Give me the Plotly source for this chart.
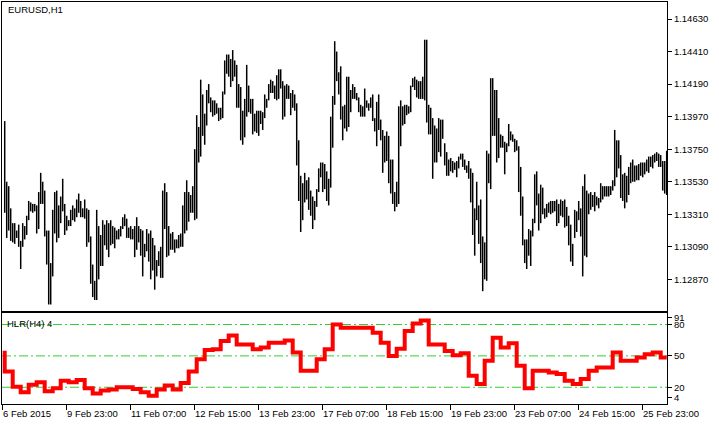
import plotly.graph_objects as go

# ---------------- data ----------------
high = [1.1394,1.1353,1.1350,1.1335,1.1325,1.1325,1.1320,1.1324,1.1313,1.1325,
1.1323,1.1330,1.1340,1.1339,1.1338,1.1338,1.1337,1.1346,1.1359,1.1353,
1.1347,1.1320,1.1320,1.1298,1.1334,1.1346,1.1347,1.1337,1.1343,1.1355,
1.1338,1.1330,1.1327,1.1334,1.1337,1.1335,1.1341,1.1345,1.1340,1.1335,
1.1341,1.1335,1.1334,1.1316,1.1297,1.1286,1.1334,1.1323,1.1317,1.1327,
1.1324,1.1327,1.1325,1.1327,1.1323,1.1322,1.1320,1.1321,1.1323,1.1329,
1.1331,1.1328,1.1322,1.1323,1.1321,1.1323,1.1329,1.1323,1.1321,1.1320,
1.1311,1.1321,1.1318,1.1320,1.1315,1.1310,1.1300,1.1306,1.1309,1.1347,
1.1352,1.1346,1.1323,1.1318,1.1319,1.1314,1.1314,1.1317,1.1318,1.1337,
1.1346,1.1354,1.1346,1.1344,1.1350,1.1375,1.1398,1.1390,1.1422,1.1412,
1.1399,1.1415,1.1419,1.1410,1.1408,1.1408,1.1406,1.1403,1.1403,1.1414,
1.1435,1.1439,1.1439,1.1436,1.1442,1.1435,1.1432,1.1419,1.1417,1.1401,
1.1409,1.1432,1.1418,1.1409,1.1409,1.1399,1.1401,1.1401,1.1401,1.1400,
1.1412,1.1409,1.1419,1.1422,1.1421,1.1418,1.1425,1.1429,1.1429,1.1421,
1.1418,1.1419,1.1418,1.1413,1.1415,1.1412,1.1406,1.1381,1.1357,1.1352,
1.1359,1.1354,1.1356,1.1347,1.1343,1.1340,1.1348,1.1362,1.1366,1.1366,
1.1365,1.1360,1.1355,1.1397,1.1411,1.1448,1.1441,1.1427,1.1431,1.1404,
1.1405,1.1424,1.1424,1.1415,1.1419,1.1417,1.1413,1.1410,1.1405,1.1404,
1.1416,1.1408,1.1406,1.1410,1.1412,1.1396,1.1407,1.1412,1.1395,1.1388,
1.1384,1.1387,1.1384,1.1368,1.1368,1.1346,1.1353,1.1404,1.1408,1.1404,
1.1405,1.1405,1.1404,1.1418,1.1423,1.1424,1.1422,1.1421,1.1421,1.1424,
1.1449,1.1449,1.1405,1.1403,1.1396,1.1391,1.1389,1.1396,1.1395,1.1395,
1.1379,1.1373,1.1368,1.1369,1.1367,1.1366,1.1367,1.1370,1.1372,1.1372,
1.1368,1.1364,1.1367,1.1362,1.1359,1.1335,1.1353,1.1337,1.1341,1.1316,
1.1312,1.1374,1.1372,1.1423,1.1423,1.1415,1.1415,1.1396,1.1385,1.1384,
1.1380,1.1379,1.1392,1.1387,1.1385,1.1382,1.1381,1.1377,1.1363,1.1343,
1.1314,1.1314,1.1321,1.1320,1.1328,1.1358,1.1360,1.1345,1.1351,1.1349,
1.1335,1.1338,1.1339,1.1340,1.1340,1.1340,1.1341,1.1338,1.1341,1.1340,
1.1341,1.1336,1.1330,1.1324,1.1311,1.1334,1.1333,1.1340,1.1335,1.1350,
1.1358,1.1347,1.1345,1.1346,1.1344,1.1346,1.1343,1.1342,1.1352,1.1350,
1.1350,1.1350,1.1350,1.1350,1.1354,1.1388,1.1381,1.1381,1.1371,1.1358,
1.1359,1.1357,1.1363,1.1366,1.1368,1.1364,1.1364,1.1365,1.1366,1.1366,
1.1366,1.1368,1.1370,1.1370,1.1371,1.1372,1.1373,1.1372,1.1371,1.1367,
1.1367,1.1374]

low = [1.1332,1.1315,1.1320,1.1313,1.1312,1.1311,1.1315,1.1309,1.1294,1.1309,
1.1314,1.1317,1.1327,1.1333,1.1332,1.1333,1.1318,1.1321,1.1338,1.1338,
1.1316,1.1297,1.1270,1.1270,1.1289,1.1318,1.1312,1.1315,1.1325,1.1333,
1.1317,1.1320,1.1323,1.1323,1.1327,1.1326,1.1329,1.1332,1.1329,1.1329,
1.1328,1.1309,1.1312,1.1284,1.1275,1.1273,1.1273,1.1287,1.1296,1.1296,
1.1310,1.1307,1.1302,1.1310,1.1311,1.1308,1.1314,1.1314,1.1316,1.1321,
1.1323,1.1315,1.1315,1.1314,1.1314,1.1302,1.1307,1.1312,1.1303,1.1289,
1.1302,1.1306,1.1299,1.1287,1.1293,1.1280,1.1289,1.1296,1.1288,1.1288,
1.1321,1.1302,1.1303,1.1307,1.1307,1.1305,1.1308,1.1308,1.1309,1.1309,
1.1318,1.1320,1.1326,1.1332,1.1332,1.1327,1.1328,1.1366,1.1370,1.1384,
1.1378,1.1391,1.1406,1.1400,1.1397,1.1398,1.1399,1.1394,1.1395,1.1396,
1.1412,1.1426,1.1424,1.1417,1.1421,1.1424,1.1403,1.1403,1.1381,1.1378,
1.1383,1.1397,1.1400,1.1399,1.1385,1.1387,1.1386,1.1384,1.1392,1.1388,
1.1396,1.1403,1.1408,1.1413,1.1413,1.1409,1.1408,1.1409,1.1416,1.1395,
1.1397,1.1409,1.1409,1.1398,1.1403,1.1401,1.1364,1.1340,1.1319,1.1327,
1.1339,1.1341,1.1334,1.1330,1.1321,1.1327,1.1336,1.1346,1.1356,1.1346,
1.1348,1.1340,1.1337,1.1349,1.1376,1.1405,1.1421,1.1412,1.1395,1.1381,
1.1389,1.1387,1.1390,1.1400,1.1409,1.1409,1.1408,1.1400,1.1397,1.1397,
1.1397,1.1403,1.1401,1.1403,1.1394,1.1387,1.1377,1.1388,1.1381,1.1359,
1.1366,1.1367,1.1352,1.1345,1.1338,1.1333,1.1336,1.1338,1.1377,1.1391,
1.1392,1.1398,1.1399,1.1400,1.1417,1.1415,1.1410,1.1409,1.1409,1.1409,
1.1408,1.1393,1.1385,1.1385,1.1355,1.1366,1.1366,1.1373,1.1370,1.1382,
1.1364,1.1357,1.1357,1.1360,1.1359,1.1361,1.1356,1.1362,1.1368,1.1363,
1.1361,1.1359,1.1355,1.1339,1.1317,1.1303,1.1327,1.1311,1.1298,1.1279,
1.1287,1.1286,1.1352,1.1348,1.1384,1.1384,1.1366,1.1369,1.1376,1.1376,
1.1358,1.1373,1.1377,1.1381,1.1380,1.1373,1.1374,1.1346,1.1330,1.1310,
1.1298,1.1294,1.1303,1.1296,1.1316,1.1325,1.1337,1.1320,1.1325,1.1331,
1.1328,1.1329,1.1332,1.1331,1.1332,1.1333,1.1323,1.1325,1.1330,1.1329,
1.1322,1.1323,1.1310,1.1299,1.1296,1.1315,1.1319,1.1327,1.1316,1.1289,
1.1303,1.1302,1.1331,1.1334,1.1336,1.1333,1.1337,1.1335,1.1339,1.1341,
1.1343,1.1343,1.1343,1.1344,1.1347,1.1350,1.1356,1.1362,1.1342,1.1340,
1.1335,1.1339,1.1344,1.1352,1.1353,1.1353,1.1354,1.1354,1.1357,1.1356,
1.1358,1.1360,1.1359,1.1363,1.1362,1.1366,1.1367,1.1363,1.1363,1.1347,
1.1345,1.1344]

# HLR(H4) value of each H4 block (first block holds one H1 bar, then 4 bars each)
hlr = [53, 35, 20.6, 15.3, 22.5, 24.7, 16.2, 19.1, 26.3, 24.7,
       27, 19, 14, 17, 17.8, 20, 20, 18.4, 15.3, 12,
       17.8, 21.6, 17.8, 24, 35, 46.8, 55.7, 56.3, 64.2, 69.6,
       61, 61, 56.3, 57.9, 62.6, 62.6, 64.8, 53.2, 35.8, 35.8,
       46.8, 56.3, 80, 76.8, 76.8, 76.8, 76.8, 72.1, 62.6, 50,
       56.9, 73.7, 81, 83.8, 61, 61, 54.7, 50.6, 52.5, 31,
       23.2, 45.3, 67.4, 57.9, 62, 40.5, 19, 35.8, 35.8, 34.2,
       32.6, 26.3, 23.2, 27.9, 35.8, 38.9, 38.9, 53.2, 45.3, 45.3,
       48.4, 51.6, 53.2, 48.4]

levels = [20, 50, 80]

price_ticks = [1.14630, 1.14410, 1.14190, 1.13970, 1.13750,
               1.13530, 1.13310, 1.13090, 1.12870]

time_tick_pos = [0, 32, 64, 96, 128, 160, 192, 224, 256, 288, 320]
time_tick_labels = ["6 Feb 2015", "9 Feb 23:00", "11 Feb 07:00", "12 Feb 15:00",
                    "13 Feb 23:00", "17 Feb 07:00", "18 Feb 15:00", "19 Feb 23:00",
                    "23 Feb 07:00", "24 Feb 15:00", "25 Feb 23:00"]

# ---------------- figure ----------------
FONT = "Liberation Sans"
FS = 9.5

bx, by = [], []
for i, (h, l) in enumerate(zip(high, low)):
    x = i + 1
    bx += [x, x, None]
    by += [l, h, None]

n = len(high)
hx = [0] + [1 + 4 * k for k in range(len(hlr) - 1)] + [n]
hy = hlr + [hlr[-1]]

fig = go.Figure()
fig.add_trace(go.Scatter(x=bx, y=by, mode="lines", line=dict(color="black", width=1.5),
                         xaxis="x", yaxis="y", hoverinfo="skip"))

xr = [-0.35, n + 0.15]
for lv in levels:
    fig.add_trace(go.Scatter(x=xr, y=[lv, lv], mode="lines",
                             line=dict(color="#32CD32", width=1, dash="9px,3px,2px,3px"),
                             xaxis="x2", yaxis="y2", hoverinfo="skip"))

fig.add_trace(go.Scatter(x=hx, y=hy, mode="lines", line=dict(color="#FF0000", width=4, shape="hv"),
                         xaxis="x2", yaxis="y2", hoverinfo="skip"))

H = 424
mt, mb = 2, 20
ph = H - mt - mb
ind_top_px = 313
main_bot_px = 311
ind_dom = [0, (H - mb - ind_top_px) / ph]
main_dom = [(H - mb - main_bot_px) / ph, 1]

axis_common = dict(showgrid=False, zeroline=False, showline=True, mirror=True,
                   linecolor="black", linewidth=1)

fig.update_layout(
    width=719, height=H,
    margin=dict(l=2, r=52, t=mt, b=mb),
    paper_bgcolor="white", plot_bgcolor="white",
    showlegend=False,
    font=dict(family=FONT, size=FS, color="black"),
    xaxis=dict(domain=[0, 1], range=xr, anchor="y", showticklabels=False, ticks="",
               **axis_common),
    yaxis=dict(domain=main_dom, range=[1.12656, 1.14745], side="right", anchor="x",
               tickmode="array",
               tickvals=price_ticks, ticktext=[f"{v:.5f}" for v in price_ticks],
               ticks="outside", ticklen=4, tickcolor="black",
               tickfont=dict(family=FONT, size=FS, color="black"), **axis_common),
    xaxis2=dict(domain=[0, 1], range=xr, anchor="y2", showticklabels=False,
                tickmode="array",
                tickvals=time_tick_pos, ticks="outside", ticklen=5, tickcolor="black",
                **axis_common),
    yaxis2=dict(domain=ind_dom, range=[4, 91], side="right", anchor="x2",
                tickmode="array",
                tickvals=[86.6, 80, 50, 20, 10.3], ticktext=["91", "80", "50", "20", "4"],
                ticks="outside", ticklen=4, tickcolor="black",
                tickfont=dict(family=FONT, size=FS, color="black"), **axis_common),
)

ann = []
for p, t in zip(time_tick_pos, time_tick_labels):
    ann.append(dict(x=p, xref="x2", y=(H - mb - 413) / ph, yref="paper", text=t,
                    showarrow=False, xanchor="left", yanchor="middle", xshift=-2,
                    font=dict(family=FONT, size=FS, color="black")))
ann.append(dict(x=(6 - 2) / 665, xref="paper", y=(H - mb - 9.5) / ph, yref="paper",
                text="EURUSD,H1", showarrow=False, xanchor="left", yanchor="middle",
                font=dict(family=FONT, size=FS, color="black")))
ann.append(dict(x=(5 - 2) / 665, xref="paper", y=(H - mb - 323.5) / ph, yref="paper",
                text="HLR(H4) 4", showarrow=False, xanchor="left", yanchor="middle",
                font=dict(family=FONT, size=FS, color="black")))
fig.update_layout(annotations=ann)

fig.write_html("out.html", config={"displayModeBar": False},
               post_script="document.body.style.margin='0px';document.body.style.overflow='hidden';")
